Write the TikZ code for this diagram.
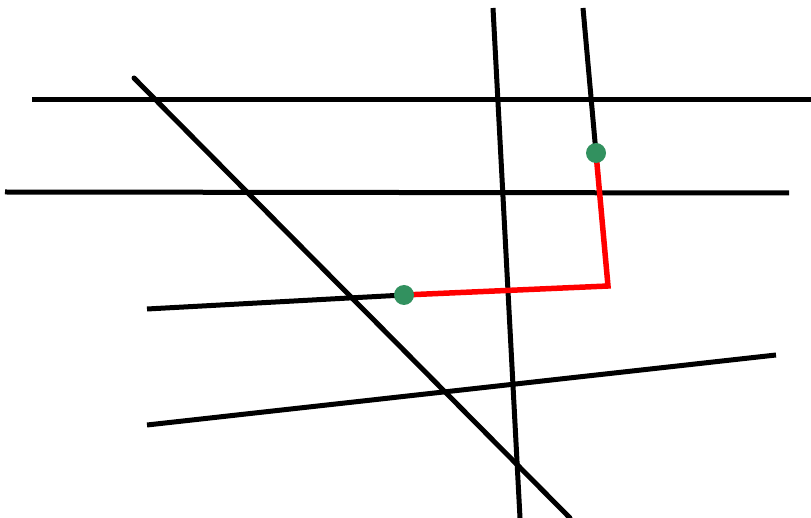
\documentclass[tikz,border=0pt]{standalone}
\definecolor{dotgreen}{RGB}{50,145,95}
\begin{document}
\begin{tikzpicture}[x=1pt,y=-1pt,
  blk/.style={line width=5pt,black},
  redl/.style={line width=5.5pt,red,line join=miter},
  gdot/.style={circle,fill=dotgreen,inner sep=0pt,minimum size=20pt}]
\useasboundingbox (0,0) rectangle (811,518);
\coordinate (h1a) at (32,100); \coordinate (h1b) at (811,100);
\coordinate (h2a) at (5,192); \coordinate (h2b) at (789,193);
\coordinate (h3a) at (147,309);
\coordinate (h4a) at (147,425); \coordinate (h4b) at (776,355);
\coordinate (da) at (134,78); \coordinate (db) at (570,518);
\coordinate (v1a) at (493,8); \coordinate (v1b) at (520,518);
\coordinate (v2a) at (583,8);
\coordinate (c) at (608,286);
\coordinate (p1) at (596,153);
\coordinate (p2) at (404,295);
\draw[blk] (h1a) -- (h1b);
\draw[blk] (h2a) -- (h2b);
\draw[blk] (h4a) -- (h4b);
\draw[blk,line cap=round] (da) -- (db);
\draw[blk] (v1a) -- (v1b);
\draw[blk] (v2a) -- (p1);
\draw[blk] (h3a) -- (p2);
\draw[redl] (p2) -- (c) -- (p1);
\node[gdot] (g1) at (p1) {};
\node[gdot] (g2) at (p2) {};
\end{tikzpicture}
\end{document}
